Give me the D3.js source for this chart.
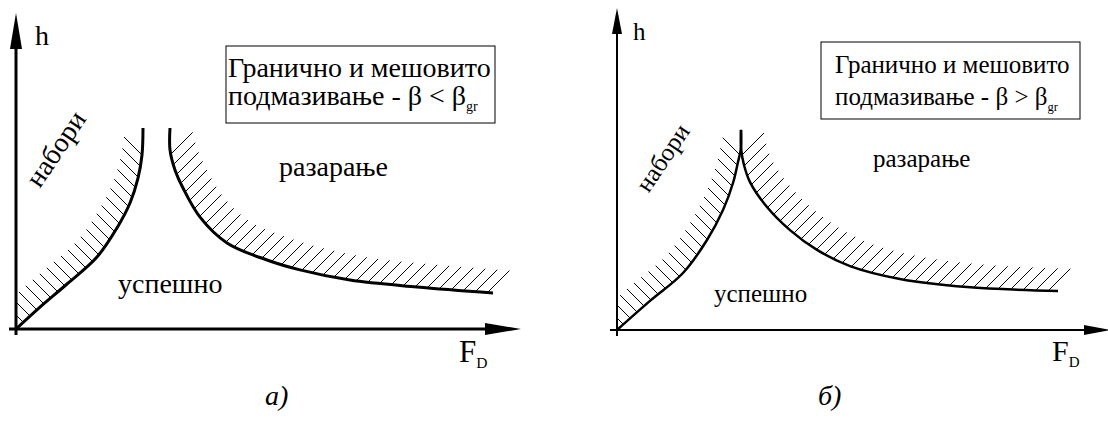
<!DOCTYPE html>
<html lang="sr">
<head>
<meta charset="utf-8">
<script src="https://cdn.jsdelivr.net/npm/d3@7"></script>
</head>
<body style="margin:0">
<svg id="chart" width="1108" height="425"></svg>
<script>
// Boundary curves, given as [F_D, h] in relative units (0..100 on each axis).
// Panel а): wrinkling boundary and fracture boundary
const wrinkleA  = [[0,0],[4.8,7.3],[10.2,15],[16.2,24],[20.2,33.7],[22.8,42],[24.4,50.3],[25.2,58],[25.4,67]];
const fractureA = [[30.8,67],[30.8,59.7],[31.8,53],[33.4,47],[36.8,37.3],[42.2,28.7],[50.2,23],[56.8,19.7],[66.8,16.3],[80.2,14],[95.4,12]];
// Panel б): the two boundaries meet in a cusp
const wrinkleB  = [[0,0],[6.6,9.7],[13.2,19],[18,30],[21.2,40],[23.2,49],[24.2,56],[24.8,60.7],[24.8,66.7]];
const fractureB = [[24.8,66.7],[24.8,60.7],[25.4,55],[26.6,49.3],[30,41],[34.6,33.3],[40,26.7],[46.6,21.3],[56.6,17],[70,14.3],[88.2,13]];

// Text
const regionLabels = ["набори", "успешно", "разарање"];
const boxLine1 = "Гранично и мешовито";
const boxLine2 = "подмазивање - β";
const relationSigns = ["<", ">"];
const captions = ["а)", "б)"];
const axisY = "h", axisX = "F", axisXSub = "D", betaSub = "gr";

const svg = d3.select("#chart");
const FONT = "Liberation Serif";

// text helper: labels sit directly on the root svg with the serif face
function addText(size) {
  return svg.append("text").attr("font-family", FONT).attr("font-size", size);
}

function drawPanel(cfg) {
  const g = svg.append("g");
  const x = d3.scaleLinear().domain([0, 100]).range([cfg.ox, cfg.ox + 500]);
  const y = d3.scaleLinear().domain([0, 100]).range([cfg.oy, cfg.oy - 300]);
  const line = d3.line().x(d => x(d[0])).y(d => y(d[1])).curve(d3.curveCatmullRom.alpha(0.5));

  const wrPath = g.append("path").attr("d", line(cfg.wrinkle))
    .attr("fill", "none").attr("stroke", "#000").attr("stroke-width", cfg.curveW);
  const frPath = g.append("path").attr("d", line(cfg.fracture))
    .attr("fill", "none").attr("stroke", "#000").attr("stroke-width", cfg.curveW);

  // hatching on the outer side of each boundary
  hatch(g, wrPath.node(), -1, cfg.hatchL, cfg.hatchTop, cfg.ox, cfg.step);
  hatch(g, frPath.node(), +1, cfg.hatchR, cfg.hatchTop, cfg.ox, cfg.step);

  // axes
  const ax = g.append("g").attr("stroke", "#000").attr("stroke-width", cfg.axisW);
  ax.append("line").attr("x1", x(0)).attr("y1", cfg.oy + 6).attr("x2", x(0)).attr("y2", cfg.yTip + 20);
  ax.append("line").attr("x1", x(0) - 7).attr("y1", cfg.oy).attr("x2", cfg.xTip - 20).attr("y2", cfg.oy);
  g.append("path")
    .attr("d", `M${x(0)},${cfg.yTip} L${x(0) + cfg.headW},${cfg.yTip + cfg.headL} L${x(0) - cfg.headW},${cfg.yTip + cfg.headL} Z`)
    .attr("fill", "#000");
  g.append("path")
    .attr("d", `M${cfg.xTip},${cfg.oy} L${cfg.xTip - cfg.headL},${cfg.oy - cfg.headW} L${cfg.xTip - cfg.headL},${cfg.oy + cfg.headW} Z`)
    .attr("fill", "#000");

  // legend box
  g.append("rect").attr("x", cfg.box[0]).attr("y", cfg.box[1])
    .attr("width", cfg.box[2]).attr("height", cfg.box[3])
    .attr("fill", "#fff").attr("stroke", "#000").attr("stroke-width", 1);

  // axis names
  addText(cfg.font).attr("x", cfg.hPos[0]).attr("y", cfg.hPos[1]).text(axisY);
  const fd = addText(cfg.fFont).attr("x", cfg.fPos[0]).attr("y", cfg.fPos[1]);
  fd.append("tspan").text(axisX);
  fd.append("tspan").attr("font-size", cfg.fFont * 0.5).attr("dy", 6).text(axisXSub);

  // legend text
  addText(cfg.font).attr("x", cfg.box[0] + cfg.boxPad).attr("y", cfg.box[1] + cfg.base1).text(boxLine1);
  const t2 = addText(cfg.font).attr("x", cfg.box[0] + cfg.boxPad).attr("y", cfg.box[1] + cfg.base2);
  t2.append("tspan").text(boxLine2 + " " + cfg.sign + " β");
  t2.append("tspan").attr("font-size", cfg.font * 0.5).attr("dy", 6).text(betaSub);

  // region names
  addText(cfg.font).attr("text-anchor", "middle")
    .attr("transform", `translate(${cfg.wrinkleLbl[0]},${cfg.wrinkleLbl[1]}) rotate(-56)`)
    .attr("dy", "0.32em").text(regionLabels[0]);
  addText(cfg.font).attr("x", cfg.okLbl[0]).attr("y", cfg.okLbl[1]).text(regionLabels[1]);
  addText(cfg.font).attr("x", cfg.failLbl[0]).attr("y", cfg.failLbl[1]).text(regionLabels[2]);

  // caption
  addText(28).attr("font-style", "italic")
    .attr("x", cfg.caption[0]).attr("y", cfg.caption[1]).text(cfg.captionText);
}

// Parallel 45° hatch strokes along a boundary path.
// dir = -1: strokes go up-left ("\"), dir = +1: strokes go up-right ("/").
function hatch(g, node, dir, a, yTop, clipX, step) {
  const len = node.getTotalLength();
  const pts = [];
  for (let s = 0; s <= len; s += 0.5) pts.push(node.getPointAtLength(s));
  pts.push(node.getPointAtLength(len));
  const key = p => dir < 0 ? p.x - p.y : p.x + p.y;
  const keys = pts.map(key);
  const kMin = d3.min(keys), kMax = d3.max(keys);
  const hg = g.append("g").attr("stroke", "#000").attr("stroke-width", 1);
  for (let c = Math.ceil(kMin / step) * step; c <= kMax; c += step) {
    for (let i = 0; i < pts.length - 1; i++) {
      const k0 = keys[i], k1 = keys[i + 1];
      if ((k0 - c) * (k1 - c) > 0 || k0 === k1) continue;
      const t = (c - k0) / (k1 - k0);
      const px = pts[i].x + t * (pts[i + 1].x - pts[i].x);
      const py = pts[i].y + t * (pts[i + 1].y - pts[i].y);
      if (py < yTop) break;
      let ex = px + dir * a, ey = py - a;
      if (ex < clipX) { const u = (px - clipX) / a; ex = clipX; ey = py - a * u; }
      hg.append("line").attr("x1", px).attr("y1", py).attr("x2", ex).attr("y2", ey);
      break;
    }
  }
}

drawPanel({
  ox: 16, oy: 329, wrinkle: wrinkleA, fracture: fractureA,
  curveW: 3, axisW: 3, hatchL: 18, hatchR: 22, hatchTop: 152, step: 13,
  yTip: 13, xTip: 521, headL: 36, headW: 6,
  hPos: [35, 45], fPos: [459, 362], font: 28, fFont: 31,
  box: [226, 46, 269, 77], boxPad: 2, base1: 31, base2: 59, sign: relationSigns[0],
  wrinkleLbl: [56, 149], okLbl: [118, 293], failLbl: [279, 176],
  caption: [265, 405], captionText: captions[0]
});

drawPanel({
  ox: 617, oy: 330, wrinkle: wrinkleB, fracture: fractureB,
  curveW: 2.5, axisW: 2, hatchL: 17, hatchR: 22, hatchTop: 147, step: 13,
  yTip: 8, xTip: 1110, headL: 26, headW: 5,
  hPos: [633, 40], fPos: [1052, 361], font: 25, fFont: 30,
  box: [821, 42, 259, 77], boxPad: 14, base1: 31, base2: 63, sign: relationSigns[1],
  wrinkleLbl: [663, 158], okLbl: [714, 302], failLbl: [873, 167],
  caption: [818, 405], captionText: captions[1]
});
</script>
</body>
</html>
